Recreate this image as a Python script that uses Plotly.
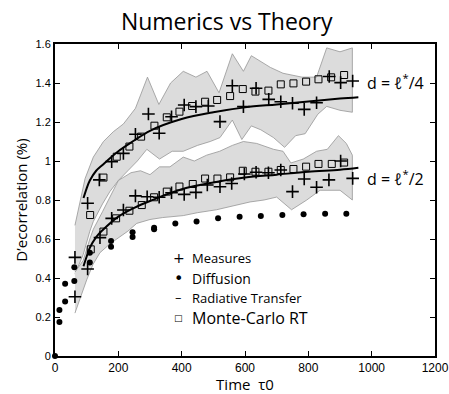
import plotly.graph_objects as go

# ---------------- data ----------------
# Measures (+)
meas_q_t = [63, 103, 140, 179, 216, 254, 295, 329, 368, 408, 445, 484, 521, 560, 595, 635, 675, 713, 750, 787, 826, 866, 902, 940]
meas_q_v = [0.506, 0.783, 0.903, 0.997, 1.039, 1.137, 1.241, 1.142, 1.227, 1.287, 1.279, 1.282, 1.202, 1.386, 1.279, 1.373, 1.316, 1.304, 1.296, 1.265, 1.299, 1.433, 1.402, 1.41]
meas_h_t = [63, 103, 142, 179, 216, 254, 291, 329, 368, 408, 445, 481, 521, 558, 598, 635, 674, 713, 750, 787, 826, 865, 902, 940]
meas_h_v = [0.304, 0.446, 0.607, 0.706, 0.749, 0.821, 0.817, 0.814, 0.837, 0.829, 0.839, 0.877, 0.868, 0.885, 0.933, 0.942, 0.94, 0.954, 0.843, 0.908, 0.865, 0.903, 1.0, 0.911]

# Diffusion (dots)
diff_t = [0, 14, 14, 32, 32, 61, 61, 110, 110, 177, 177, 245, 245, 313, 313, 380, 447, 515, 583, 650, 718, 785, 853, 920]
diff_v = [0, 0.236, 0.174, 0.37, 0.28, 0.455, 0.384, 0.53, 0.48, 0.59, 0.56, 0.634, 0.61, 0.658, 0.65, 0.68, 0.69, 0.706, 0.714, 0.718, 0.723, 0.727, 0.73, 0.73]

# Radiative transfer (lines)
rt_t = [90, 100, 110, 130, 150, 200, 250, 300, 400, 500, 600, 700, 800, 900, 958]
rt_q = [0.81, 0.86, 0.90, 0.95, 0.98, 1.05, 1.105, 1.155, 1.215, 1.25, 1.275, 1.29, 1.305, 1.32, 1.327]
rt_h = [0.46, 0.51, 0.555, 0.61, 0.645, 0.715, 0.76, 0.795, 0.855, 0.89, 0.915, 0.93, 0.945, 0.955, 0.965]

# Monte-Carlo RT (squares)
mc_t = [111, 153, 195, 235, 272, 314, 353, 393, 433, 474, 512, 553, 593, 633, 674, 713, 753, 793, 832, 872, 913]
mc_q = [0.723, 0.915, 1.022, 1.074, 1.125, 1.181, 1.224, 1.253, 1.282, 1.304, 1.313, 1.333, 1.369, 1.356, 1.361, 1.393, 1.398, 1.407, 1.419, 1.429, 1.441]
mc_h_t = [113, 153, 193, 235, 274, 313, 353, 393, 435, 474, 513, 553, 593, 633, 674, 713, 753, 793, 832, 874, 913]
mc_h = [0.547, 0.638, 0.706, 0.745, 0.774, 0.814, 0.843, 0.869, 0.882, 0.91, 0.91, 0.916, 0.95, 0.945, 0.945, 0.954, 0.959, 0.971, 0.985, 0.985, 0.992]

# Monte-Carlo spread (grey bands)
band_q_top_t = [63, 89, 95, 121, 153, 184, 216, 254, 292, 328, 365, 405, 445, 480, 518, 560, 595, 620, 680, 720, 780, 826, 858, 900, 939]
band_q_top_v = [0.67, 0.86, 0.91, 1.02, 1.10, 1.15, 1.19, 1.27, 1.43, 1.29, 1.40, 1.46, 1.43, 1.46, 1.35, 1.55, 1.46, 1.54, 1.48, 1.45, 1.43, 1.43, 1.58, 1.56, 1.58]
band_q_bot_t = [63, 89, 110, 121, 150, 174, 200, 230, 260, 290, 330, 370, 405, 450, 490, 521, 560, 590, 620, 650, 690, 725, 760, 790, 830, 858, 900, 939]
band_q_bot_v = [0.42, 0.52, 0.64, 0.69, 0.78, 0.845, 0.90, 0.95, 1.00, 1.06, 1.01, 1.05, 1.05, 1.08, 1.10, 1.12, 1.21, 1.11, 1.18, 1.16, 1.12, 1.07, 1.13, 1.14, 1.24, 1.28, 1.26, 1.25]
band_h_top_t = [63, 89, 110, 121, 150, 174, 200, 240, 270, 300, 330, 363, 405, 440, 479, 520, 560, 595, 637, 690, 720, 745, 784, 826, 860, 895, 920, 939]
band_h_top_v = [0.43, 0.49, 0.60, 0.65, 0.74, 0.82, 0.90, 0.94, 0.95, 0.93, 0.97, 0.97, 1.02, 1.00, 1.03, 1.05, 1.08, 1.10, 1.09, 1.06, 1.05, 0.99, 1.01, 1.05, 1.06, 1.13, 1.09, 1.03]
band_h_bot_t = [63, 80, 100, 120, 142, 170, 195, 230, 258, 300, 340, 405, 450, 510, 560, 616, 660, 700, 747, 795, 837, 900, 939]
band_h_bot_v = [0.22, 0.30, 0.39, 0.47, 0.53, 0.57, 0.60, 0.64, 0.68, 0.70, 0.71, 0.72, 0.735, 0.75, 0.77, 0.79, 0.80, 0.815, 0.75, 0.80, 0.85, 0.85, 0.80]

x_ticks = [0, 200, 400, 600, 800, 1000, 1200]
y_ticks = [0, 0.2, 0.4, 0.6, 0.8, 1.0, 1.2, 1.4, 1.6]
y_tick_text = ["0", "0.2", "0.4", "0.6", "0.8", "1", "1.2", "1.4", "1.6"]

legend_labels = ["Measures", "Diffusion", "Radiative Transfer", "Monte-Carlo RT"]
legend_symbols = ["+", "\u2022", "\u2013", "\u25a1"]
curve_labels = ["d = \u2113<sup>*</sup>/4", "d = \u2113<sup>*</sup>/2"]

# ---------------- figure ----------------
fig = go.Figure()

band_fill = "rgb(220,220,220)"
band_line = "rgb(150,150,150)"
for tt, tv, bt, bv in [(band_q_top_t, band_q_top_v, band_q_bot_t, band_q_bot_v),
                       (band_h_top_t, band_h_top_v, band_h_bot_t, band_h_bot_v)]:
    fig.add_trace(go.Scatter(
        x=tt + bt[::-1], y=tv + bv[::-1], mode="lines", fill="toself",
        fillcolor=band_fill, line=dict(color=band_line, width=0.8),
        hoverinfo="skip", showlegend=False))

for yy in (rt_q, rt_h):
    fig.add_trace(go.Scatter(x=rt_t, y=yy, mode="lines",
                             line=dict(color="black", width=2, shape="spline"),
                             showlegend=False))

fig.add_trace(go.Scatter(x=diff_t, y=diff_v, mode="markers", cliponaxis=False,
                         marker=dict(symbol="circle", size=6, color="black"),
                         showlegend=False))

for xt, yy in ((mc_t, mc_q), (mc_h_t, mc_h)):
    fig.add_trace(go.Scatter(x=xt, y=yy, mode="markers",
                             marker=dict(symbol="square-open", size=7, color="black",
                                         line=dict(width=1, color="black")),
                             showlegend=False))

for xt, yy in ((meas_q_t, meas_q_v), (meas_h_t, meas_h_v)):
    fig.add_trace(go.Scatter(x=xt, y=yy, mode="markers",
                             marker=dict(symbol="cross-thin", size=9, color="black",
                                         line=dict(width=1.6, color="black")),
                             showlegend=False))

# legend drawn as text inside plot
leg_y = [0.314, 0.25, 0.186, 0.122]
leg_sizes = [13, 14, 13, 16]
sym_sizes = [14, 16, 13, 9]
for lab, sym, yy, fs, ss in zip(legend_labels, legend_symbols, leg_y, leg_sizes, sym_sizes):
    fig.add_annotation(xref="paper", yref="paper", x=0.326, y=yy, text=sym,
                       showarrow=False, xanchor="center", yanchor="middle",
                       font=dict(family="DejaVu Sans", size=ss, color="black"))
    fig.add_annotation(xref="paper", yref="paper", x=0.355, y=yy, text=lab,
                       showarrow=False, xanchor="left", yanchor="middle",
                       font=dict(family="Open Sans", size=fs, color="black"))

for lab, yv in zip(curve_labels, [rt_q[-1] + 0.08, rt_h[-1] - 0.05]):
    fig.add_annotation(xref="paper", yref="y", x=0.815, y=yv, text=lab,
                       showarrow=False, xanchor="left", yanchor="middle",
                       font=dict(family="Open Sans", size=16, color="black"))

fig.update_layout(
    width=449, height=394,
    margin=dict(l=55, r=14, t=44, b=38),
    paper_bgcolor="white", plot_bgcolor="white",
    title=dict(text="Numerics vs Theory", x=0.505, xanchor="center", y=0.945, yanchor="middle",
               font=dict(family="Open Sans", size=23, color="black")),
    showlegend=False,
    font=dict(family="Liberation Sans", size=11, color="black"),
)
fig.update_xaxes(range=[0, 1200], tickvals=x_ticks, ticks="inside", ticklen=5,
                 tickwidth=1, tickcolor="black", showline=True, linecolor="black",
                 linewidth=2, mirror="ticks", showgrid=False, zeroline=False,
                 automargin=False,
                 tickfont=dict(family="Liberation Sans", size=12),
                 title=dict(text="Time  \u03c40", font=dict(family="Open Sans", size=15), standoff=2))
fig.update_yaxes(range=[0, 1.6], tickvals=y_ticks, ticktext=y_tick_text, ticks="inside",
                 ticklen=5, tickwidth=1, tickcolor="black", showline=True, linecolor="black",
                 linewidth=2, mirror="ticks", showgrid=False, zeroline=False,
                 automargin=False,
                 tickfont=dict(family="Liberation Sans", size=11),
                 title=dict(text="D\u2019ecorrelation (%)", font=dict(family="Open Sans", size=15), standoff=4))

fig.write_html("out.html", config={"displayModeBar": False},
               post_script="document.body.style.margin='0';")
